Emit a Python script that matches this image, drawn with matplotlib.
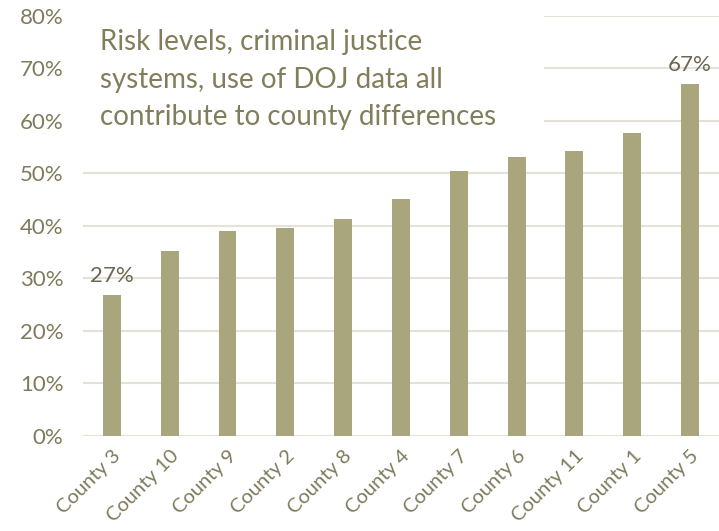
import matplotlib.pyplot as plt
from matplotlib.patches import Rectangle
from matplotlib.ticker import PercentFormatter

counties = ["County 3", "County 10", "County 9", "County 2", "County 8", "County 4",
            "County 7", "County 6", "County 11", "County 1", "County 5"]
values = [26.8, 35.2, 39.0, 39.5, 41.2, 45.0, 50.4, 53.0, 54.2, 57.6, 66.9]
labelled = {0: "27%", 10: "67%"}
title_text = ("Risk levels, criminal justice\n"
              "systems, use of DOJ data all\n"
              "contribute to county differences")

plt.rcParams['font.family'] = ['Lato', 'DejaVu Sans']

bar_color = "#A9A57C"
text_color = "#7F7A5C"
grid_color = "#E4E1D7"

fig = plt.figure(figsize=(7.19, 5.31), dpi=100)
ax = fig.add_axes([0.1154, 0.1789, 0.8846, 0.7919])

x = range(len(counties))
ax.bar(x, values, width=0.31, color=bar_color, zorder=2)
ax.set_xlim(-0.5, len(counties) - 0.5)
ax.set_ylim(0, 80)
ax.set_yticks(range(0, 81, 10))
ax.yaxis.set_major_formatter(PercentFormatter(decimals=0))
ax.grid(axis="y", color=grid_color, linewidth=1.5, zorder=0)
ax.set_axisbelow(True)
for s in ax.spines.values():
    s.set_visible(False)
ax.tick_params(axis="y", length=0, labelsize=16, colors=text_color, pad=14)
ax.tick_params(axis="x", length=0, labelsize=14.5, colors=text_color, pad=8)
ax.set_xticks(list(x))
ax.set_xticklabels(counties, rotation=45, ha="right", rotation_mode="anchor")

for i, txt in labelled.items():
    ax.text(i, values[i] + 1.8, txt, ha="center", va="bottom", fontsize=16,
            color="#6B6650", zorder=3)

# white box behind the title hides the gridlines
ax.add_patch(Rectangle((-0.5, 55), 7.98, 26, facecolor="white", edgecolor="none",
                       zorder=1, clip_on=False))
ax.text(0.027, 0.968, title_text, transform=ax.transAxes, ha="left", va="top",
        fontsize=20, color="#827D5A", linespacing=1.55, zorder=4)

fig.savefig("out.png", dpi=100)
